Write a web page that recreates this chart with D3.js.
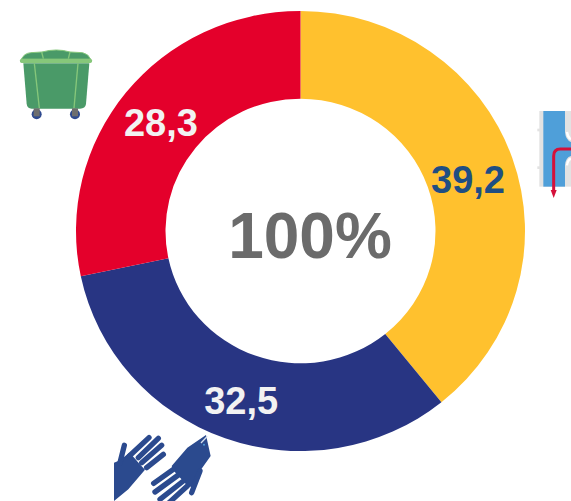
<!DOCTYPE html>
<html><head><meta charset="utf-8">
<script src="https://cdn.jsdelivr.net/npm/d3@7/dist/d3.min.js"></script>
<style>html,body{margin:0;padding:0;background:#fff}svg{display:block}</style>
</head><body><svg id="c" width="571" height="501"></svg>
<script>
const categories = ["Canalización", "Manos", "Contenedor"];
const values = [39.2, 32.5, 28.3];
const labels = ["39,2", "32,5", "28,3"];
const centerLabel = "100%";
const colors = ["#FFC12E", "#283583", "#E4002B"];
const labelColors = ["#1F4E82", "#F2F2F2", "#F2F2F2"];

const svg = d3.select("#c");
const font = "'Liberation Sans', Arial, sans-serif";

// --- icons (under the ring) ---
const bin = svg.append("g").attr("transform", "translate(0,30) scale(0.3333)");
const binGreen = "#4A9A68", binLight = "#86C77A";
bin.append("path").attr("d", "M70,100 L268,100 L258,222 Q256,236 240,236 L95,236 Q82,236 80,222 Z").attr("fill", binGreen);
[[110,253],[225,253]].forEach(p => {
  bin.append("circle").attr("cx", p[0]).attr("cy", p[1]).attr("r", 15).attr("fill", "#2F4A8F");
  bin.append("rect").attr("x", p[0] - 9).attr("y", p[1] - 18).attr("width", 18).attr("height", 24).attr("fill", "#6E6E6E");
});
bin.append("path").attr("d", "M64,88 Q72,70 92,68 L126,66 Q170,54 210,66 L248,68 Q266,72 272,88 Z").attr("fill", binGreen).attr("stroke", binLight).attr("stroke-width", 3);
bin.append("rect").attr("x", 60).attr("y", 86).attr("width", 216).attr("height", 13).attr("rx", 5).attr("fill", binLight);
[[103,100,118,234],[234,100,222,234],[125,66,130,86],[210,66,205,86]].forEach(l => {
  bin.append("line").attr("x1", l[0]).attr("y1", l[1]).attr("x2", l[2]).attr("y2", l[3]).attr("stroke", binLight).attr("stroke-width", 4);
});

const pipe = svg.append("g").attr("transform", "translate(521,100) scale(0.3333)");
pipe.append("rect").attr("x", 55).attr("y", 33).attr("width", 95).attr("height", 227).attr("fill", "#E2E2E2");
pipe.append("rect").attr("x", 49).attr("y", 86).attr("width", 8).attr("height", 8).attr("fill", "#E2E2E2");
pipe.append("rect").attr("x", 49).attr("y", 199).attr("width", 8).attr("height", 8).attr("fill", "#E2E2E2");
pipe.append("rect").attr("x", 67).attr("y", 33).attr("width", 65).attr("height", 227).attr("fill", "#4F9FD9");
pipe.append("path").attr("d", "M132,96 Q134,120 150,126 L150,168 Q134,172 132,196 Z").attr("fill", "#4F9FD9");
pipe.append("path").attr("d", "M138,96 Q140,112 150,118 M150,176 Q140,180 138,196").attr("fill", "none").attr("stroke", "#fff").attr("stroke-width", 7);
pipe.append("path").attr("d", "M150,147 L118,147 Q98,147 98,168 L98,272").attr("fill", "none").attr("stroke", "#D5103A").attr("stroke-width", 9);
pipe.append("path").attr("d", "M89,270 L107,270 L98,294 Z").attr("fill", "#D5103A");

svg.append("defs").append("clipPath").attr("id", "hc").append("rect").attr("x", 42).attr("y", 0).attr("width", 330).attr("height", 240);
const hands = svg.append("g").attr("transform", "translate(100,421) scale(0.3333)").append("g").attr("clip-path", "url(#hc)");
const handBlue = "#2B4A8E";
hands.append("path").attr("d", "M42,125 L60,118 L88,95 L104,112 L118,128 L135,146 L85,205 L42,240 Z").attr("fill", handBlue);
hands.append("path").attr("d", "M215,135 L262,80 L318,42 L332,105 L300,150 L285,200 L262,195 L250,180 L235,165 L220,148 Z").attr("fill", handBlue);
[[60,125,73,73],[88,105,147,50],[115,110,175,52],[125,125,185,73],[140,140,190,100],
 [220,145,161,187],[235,162,165,213],[250,180,180,235],[262,195,205,247],[300,150,275,215]].forEach(l => {
  hands.append("line").attr("x1", l[0]).attr("y1", l[1]).attr("x2", l[2]).attr("y2", l[3])
    .attr("stroke", handBlue).attr("stroke-width", 16).attr("stroke-linecap", "round");
});
hands.append("line").attr("x1", 303).attr("y1", 66).attr("x2", 322).attr("y2", 46).attr("stroke", "#D8E0EE").attr("stroke-width", 4);
hands.append("circle").attr("cx", 312).attr("cy", 71).attr("r", 3).attr("fill", "#4F9FD9");

// --- ring ---
const cx = 300.5, cy = 231, outerR = 224.5, innerR = 135, yScale = 0.98;
const ring = svg.append("g").attr("transform", `translate(${cx},${cy}) scale(1,${yScale})`);
const pie = d3.pie().sort(null)(values);
const arc = d3.arc().innerRadius(innerR).outerRadius(outerR);
ring.selectAll("path").data(pie).join("path").attr("d", arc).attr("fill", (d, i) => colors[i]);

// --- labels ---
const labelOffset = [[-2, 8], [1, 4], [0, 3]];
svg.selectAll("text.v").data(pie).join("text").attr("class", "v")
  .attr("x", (d, i) => cx + arc.centroid(d)[0] + labelOffset[i][0])
  .attr("y", (d, i) => cy + arc.centroid(d)[1] * yScale + labelOffset[i][1])
  .attr("text-anchor", "middle").attr("dominant-baseline", "central")
  .attr("font-family", font).attr("font-weight", 700).attr("font-size", 38)
  .attr("fill", (d, i) => labelColors[i]).text((d, i) => labels[i]);

svg.append("text").attr("x", 310).attr("y", 257.5).attr("text-anchor", "middle")
  .attr("font-family", font).attr("font-weight", 700).attr("font-size", 64)
  .attr("fill", "#6B6B6B").text(centerLabel);
</script></body></html>
